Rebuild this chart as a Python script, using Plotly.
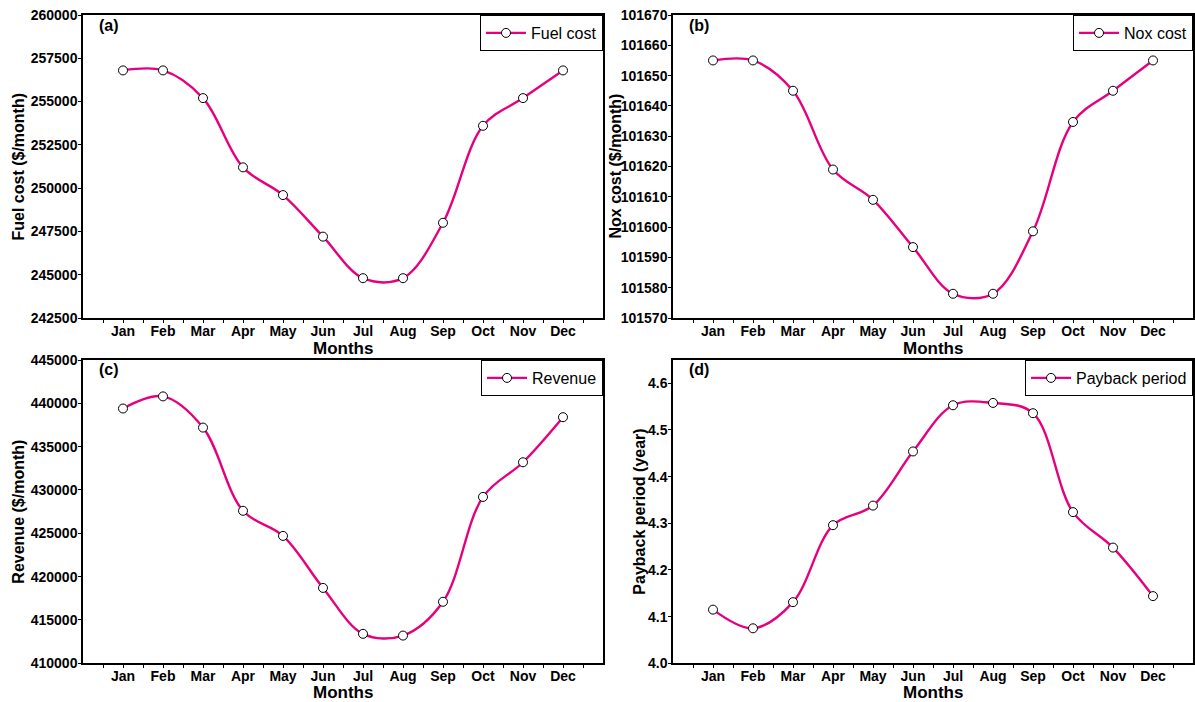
import plotly.graph_objects as go

months = ["Jan", "Feb", "Mar", "Apr", "May", "Jun", "Jul", "Aug", "Sep", "Oct", "Nov", "Dec"]
month_pos = list(range(1, 13))

fuel_cost = [256800, 256800, 255200, 251200, 249600, 247200, 244800, 244800, 248000, 253600, 255200, 256800]
nox_cost = [101655, 101655, 101645, 101619, 101609, 101593.4, 101578, 101578, 101598.6, 101634.7, 101645, 101655]
revenue = [439400, 440800, 437200, 427600, 424700, 418700, 413400, 413200, 417100, 429200, 433200, 438400]
payback = [4.115, 4.075, 4.131, 4.296, 4.338, 4.454, 4.553, 4.558, 4.536, 4.324, 4.248, 4.144]

series_names = ["Fuel cost", "Nox cost", "Revenue", "Payback period"]
y_titles = ["Fuel cost ($/month)", "Nox cost ($/month)", "Revenue ($/month)", "Payback period (year)"]
panel_labels = ["(a)", "(b)", "(c)", "(d)"]
y_ranges = [[242500, 260000], [101570, 101670], [410000, 445000], [4.0, 4.65]]
y_dticks = [2500, 10, 5000, 0.1]
y_formats = [".0f", ".0f", ".0f", ".1f"]

W, H = 1195, 702
FONT = "Liberation Sans, Arial, sans-serif"
LINE_COLOR = "#E6007E"

# pixel geometry of the plot areas
x_doms_px = [(83, 603), (673, 1193), (83, 603), (673, 1193)]
y_doms_px = [(15, 318), (15, 318), (360, 663.3), (360, 663.3)]
ytitle_x_px = [18, 615, 19, 640]
months_title_y_px = [348, 348, 692, 692]

fig = go.Figure()
data = [fuel_cost, nox_cost, revenue, payback]

annotations = []
for i in range(4):
    ax = "" if i == 0 else str(i + 1)
    leg = "legend" if i == 0 else f"legend{i + 1}"
    fig.add_trace(go.Scatter(
        x=month_pos, y=data[i], name=series_names[i],
        mode="lines+markers",
        line=dict(color=LINE_COLOR, width=2.4, shape="spline", smoothing=1.0),
        marker=dict(symbol="circle", size=9, color="white", line=dict(color="black", width=1)),
        xaxis="x" + ax, yaxis="y" + ax, legend=leg, showlegend=True,
    ))
    xd = [x_doms_px[i][0] / W, x_doms_px[i][1] / W]
    yd = [1 - y_doms_px[i][1] / H, 1 - y_doms_px[i][0] / H]
    fig.update_layout(**{
        "xaxis" + ax: dict(
            domain=xd, range=[0, 13], anchor="y" + ax, automargin=False,
            tickmode="array", tickvals=month_pos, ticktext=months,
            ticks="outside", ticklen=3, tickwidth=1, tickcolor="black",
            ticklabelstandoff=-4,
            minor=dict(tickmode="array", tickvals=[m + 0.5 for m in range(0, 13)],
                       ticks="outside", ticklen=3, tickwidth=1, tickcolor="black"),
            showline=True, linecolor="black", linewidth=1.5, mirror=True,
            showgrid=False, zeroline=False,
            tickfont=dict(family=FONT, size=14, color="black", weight="bold"),
        ),
        "yaxis" + ax: dict(
            domain=yd, range=y_ranges[i], anchor="x" + ax, automargin=False,
            dtick=y_dticks[i], tick0=y_ranges[i][0], tickformat=y_formats[i],
            ticks="outside", ticklen=3, tickwidth=1, tickcolor="black",
            ticklabelstandoff=-2,
            showline=True, linecolor="black", linewidth=1.5, mirror=True,
            showgrid=False, zeroline=False,
            tickfont=dict(family=FONT, size=14, color="black", weight="bold"),
        ),
        leg: dict(
            x=xd[1], y=yd[1], xanchor="right", yanchor="top", xref="paper", yref="paper",
            bgcolor="white", bordercolor="black", borderwidth=1,
            font=dict(family=FONT, size=16, color="black"),
            itemwidth=40, tracegroupgap=0,
        ),
    })
    # panel label
    annotations.append(dict(
        x=xd[0] + 14 / W, y=yd[1] - 10 / H, xref="paper", yref="paper",
        xanchor="left", yanchor="middle", showarrow=False,
        text=panel_labels[i], font=dict(family=FONT, size=16, color="black", weight="bold"),
    ))
    # y title
    annotations.append(dict(
        x=ytitle_x_px[i] / W, y=(yd[0] + yd[1]) / 2, xref="paper", yref="paper",
        xanchor="center", yanchor="middle", showarrow=False, textangle=-90,
        text=y_titles[i], font=dict(family=FONT, size=16, color="black", weight="bold"),
    ))
    # x title
    annotations.append(dict(
        x=(xd[0] + xd[1]) / 2, y=1 - months_title_y_px[i] / H, xref="paper", yref="paper",
        xanchor="center", yanchor="middle", showarrow=False,
        text="Months", font=dict(family=FONT, size=17, color="black", weight="bold"),
    ))

fig.update_layout(
    width=W, height=H,
    margin=dict(l=0, r=0, t=0, b=0, autoexpand=False),
    paper_bgcolor="white", plot_bgcolor="white",
    annotations=annotations,
    font=dict(family=FONT, color="black"),
)

fig.write_html(
    "out.html",
    config={"displayModeBar": False},
    post_script="document.body.style.margin='0';document.body.style.overflow='hidden';",
)
